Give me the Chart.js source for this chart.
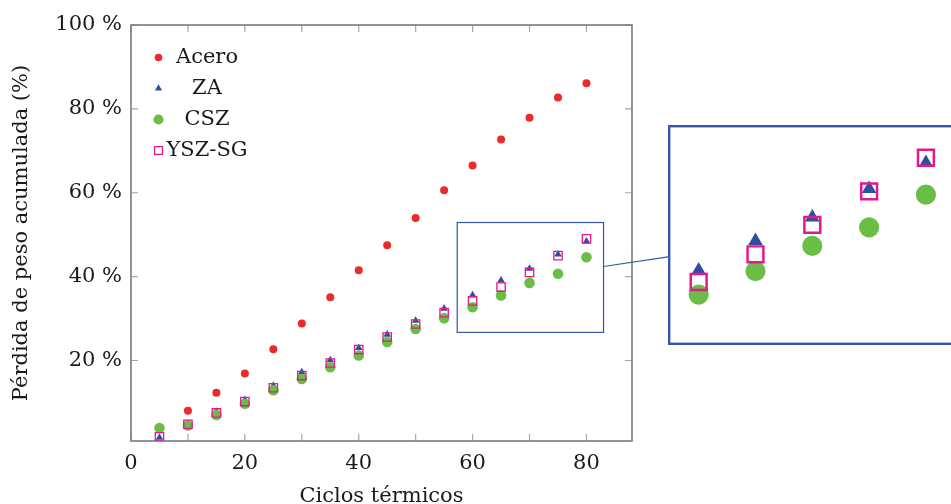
<!DOCTYPE html>
<html>
<head>
<meta charset="utf-8">
<script src="https://cdn.jsdelivr.net/npm/chart.js@4/dist/chart.umd.min.js"></script>
<style>
  html, body { margin: 0; padding: 0; background: #fff; }
  #page { position: relative; width: 951px; height: 504px; overflow: hidden; }
  #main { position: absolute; left: 0; top: 0; }
  #zoomBox { position: absolute; left: 668px; top: 125px; width: 292px; height: 220px; background: #fff; }
</style>
</head>
<body>
<div id="page">
  <canvas id="main" width="951" height="504"></canvas>
  <div id="zoomBox"><canvas id="inset" width="292" height="220"></canvas></div>
</div>
<script>
// data
const cycles = [5, 10, 15, 20, 25, 30, 35, 40, 45, 50, 55, 60, 65, 70, 75, 80];
const acero  = [null, 8.0, 12.3, 16.9, 22.7, 28.8, 35.1, 41.5, 47.5, 54.0, 60.6, 66.5, 72.7, 77.9, 82.7, 86.1];
const za     = [1.6, 4.9, 7.8, 10.6, 14.0, 17.2, 20.1, 23.0, 26.2, 29.5, 32.4, 35.6, 39.1, 41.9, 45.3, 48.4];
const csz    = [3.9, 4.5, 7.0, 9.7, 12.9, 15.6, 18.4, 21.2, 24.4, 27.5, 30.1, 32.7, 35.5, 38.5, 40.7, 44.6];
const yszSg  = [1.8, 4.8, 7.5, 10.2, 13.5, 16.4, 19.4, 22.6, 25.6, 28.7, 31.4, 34.2, 37.5, 41.0, 45.0, 49.0];

const xTicks  = [0, 10, 20, 30, 40, 50, 60, 70, 80];
const xLabels = [0, 20, 40, 60, 80];
const yTicks  = [20, 40, 60, 80, 100];

// zoomed window (data units)
const zoomX = [57.3, 83.0];
const zoomY = [26.7, 52.9];

const FONT  = "'DejaVu Serif', serif";
const RED   = '#ec2a2a';
const BLUE  = '#2f4f9e';
const GREEN = '#6abe45';
const PINK  = '#e5178b';
const BOX   = '#3657a7';

const INSET  = { left: 668, top: 125, width: 292, height: 220 };
const LEGEND = { marker: 158.5, text: 207, top: 57.5, step: 31 };

Chart.defaults.font.family = FONT;
Chart.defaults.font.size = 21;
Chart.defaults.color = '#1a1a1a';

function points(values) {
    return cycles.map((c, i) => ({ x: c, y: values[i] })).filter(p => p.y !== null);
}

function makeDatasets(k) {
    return [
        { label: 'Acero',  data: points(acero), pointStyle: 'circle',   pointRadius: 4 * k,   backgroundColor: RED,   borderColor: RED,   borderWidth: 0, order: 4 },
        { label: 'ZA',     data: points(za),    pointStyle: 'triangle', pointRadius: 4.4 * k, backgroundColor: BLUE,  borderColor: BLUE,  borderWidth: 0, order: 3 },
        { label: 'CSZ',    data: points(csz),   pointStyle: 'circle',   pointRadius: 5.3 * k, backgroundColor: GREEN, borderColor: GREEN, borderWidth: 0, order: 2 },
        { label: 'YSZ-SG', data: points(yszSg), pointStyle: 'rect',     pointRadius: 5.9 * k, backgroundColor: 'rgba(0,0,0,0)', borderColor: PINK, borderWidth: 1.3 * k, order: 1 }
    ];
}

// axis box with inward ticks on all four sides
const frame = {
    id: 'frame',
    beforeDatasetsDraw(chart) {
        const { ctx, chartArea: a, scales: { x, y } } = chart;
        ctx.save();
        ctx.strokeStyle = '#a8a8a8';
        ctx.lineWidth = 1.2;
        ctx.beginPath();
        x.ticks.forEach(t => {
            const px = x.getPixelForValue(t.value);
            ctx.moveTo(px, a.bottom); ctx.lineTo(px, a.bottom - 7);
            ctx.moveTo(px, a.top);    ctx.lineTo(px, a.top + 7);
        });
        y.ticks.forEach(t => {
            const py = y.getPixelForValue(t.value);
            ctx.moveTo(a.left, py);  ctx.lineTo(a.left + 7, py);
            ctx.moveTo(a.right, py); ctx.lineTo(a.right - 7, py);
        });
        ctx.stroke();
        ctx.strokeStyle = '#7a7a7a';
        ctx.lineWidth = 1.6;
        ctx.strokeRect(a.left, a.top, a.width, a.height);
        ctx.restore();
    }
};

// zoom window and connector to the inset
const spy = {
    id: 'spy',
    afterDatasetsDraw(chart) {
        const { ctx, scales: { x, y } } = chart;
        const l = x.getPixelForValue(zoomX[0]), r = x.getPixelForValue(zoomX[1]);
        const t = y.getPixelForValue(zoomY[1]), b = y.getPixelForValue(zoomY[0]);
        const cx = (l + r) / 2, cy = (t + b) / 2;
        const ix = INSET.left + INSET.width / 2, iy = INSET.top + INSET.height / 2;
        const slope = (iy - cy) / (ix - cx);
        ctx.save();
        ctx.strokeStyle = BOX;
        ctx.lineWidth = 1.2;
        ctx.strokeRect(l, t, r - l, b - t);
        ctx.beginPath();
        ctx.moveTo(r, cy + slope * (r - cx));
        ctx.lineTo(INSET.left, cy + slope * (INSET.left - cx));
        ctx.stroke();
        ctx.restore();
    }
};

const legendBox = {
    id: 'legendBox',
    afterDraw(chart) {
        const { ctx } = chart;
        ctx.save();
        chart.data.datasets.forEach((ds, i) => {
            const yy = LEGEND.top + i * LEGEND.step;
            ctx.fillStyle = ds.backgroundColor;
            ctx.strokeStyle = ds.borderColor;
            ctx.lineWidth = ds.borderWidth;
            Chart.helpers.drawPoint(ctx, {
                pointStyle: ds.pointStyle, radius: ds.pointRadius * 0.95,
                borderWidth: ds.borderWidth, rotation: 0
            }, LEGEND.marker, yy);
            ctx.fillStyle = '#1a1a1a';
            ctx.textAlign = 'center';
            ctx.textBaseline = 'middle';
            ctx.font = '21px ' + FONT;
            ctx.fillText(ds.label, LEGEND.text, yy);
        });
        ctx.restore();
    }
};

const insetFrame = {
    id: 'insetFrame',
    afterDraw(chart) {
        const { ctx, width, height } = chart;
        ctx.save();
        ctx.strokeStyle = BOX;
        ctx.lineWidth = 2.4;
        ctx.strokeRect(1.2, 1.2, width - 2.4, height - 2.4);
        ctx.restore();
    }
};

new Chart(document.getElementById('main'), {
    type: 'scatter',
    data: { datasets: makeDatasets(1) },
    options: {
        responsive: false,
        animation: false,
        events: [],
        layout: { padding: { left: 0, right: 319, top: 25, bottom: 0 }, autoPadding: false },
        plugins: { legend: { display: false }, tooltip: { enabled: false } },
        scales: {
            x: {
                type: 'linear', min: 0, max: 88,
                afterBuildTicks: s => { s.ticks = xTicks.map(v => ({ value: v })); },
                afterFit: s => { s.height = 63; },
                grid: { display: false, drawTicks: false },
                border: { display: false },
                ticks: { padding: 9.5, autoSkip: false, maxRotation: 0,
                         callback: v => xLabels.includes(v) ? String(v) : '' },
                title: { display: true, text: 'Ciclos térmicos',
                         padding: { top: 0, bottom: -3 }, font: { lineHeight: 1 } }
            },
            y: {
                type: 'linear', min: 0.8, max: 100,
                afterBuildTicks: s => { s.ticks = yTicks.map(v => ({ value: v })); },
                afterFit: s => { s.width = 131; },
                grid: { display: false, drawTicks: false },
                border: { display: false },
                ticks: { padding: 9, callback: v => v + ' %' },
                title: { display: true, text: 'Pérdida de peso acumulada (%)',
                         padding: { top: 11.5, bottom: 0 }, font: { lineHeight: 1 } }
            }
        }
    },
    plugins: [frame, spy, legendBox]
});

new Chart(document.getElementById('inset'), {
    type: 'scatter',
    data: { datasets: makeDatasets(1.9) },
    options: {
        responsive: false,
        animation: false,
        events: [],
        layout: { padding: 0, autoPadding: false },
        plugins: { legend: { display: false }, tooltip: { enabled: false } },
        scales: {
            x: { display: false, min: zoomX[0], max: zoomX[1] },
            y: { display: false, min: zoomY[0], max: zoomY[1] }
        }
    },
    plugins: [insetFrame]
});
</script>
</body>
</html>
